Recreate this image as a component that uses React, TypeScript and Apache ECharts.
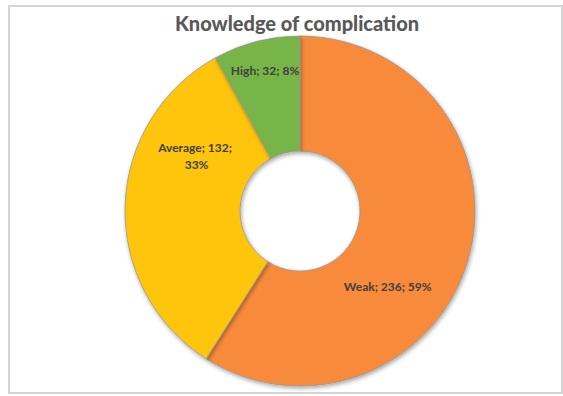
import React, { useEffect, useRef } from "react";
import * as echarts from "echarts";

const titleText = "Knowledge of complication";
const categories = ["Weak", "Average", "High"];
const values = [236, 132, 32];
const colors = ["#F88B3B", "#FFC508", "#78B548"];
// label nudges per category (pixels) to mirror the reference placement
const labelOffsets: [number, number][] = [[-28, 42], [17, -51], [-5, -24]];

const FONT = "Lato, 'Open Sans', sans-serif";

export default function App() {
  const ref = useRef<HTMLDivElement>(null);
  useEffect(() => {
    if (!ref.current) return;
    const chart = echarts.init(ref.current, undefined, { renderer: "svg" });
    const data = categories.map((name, i) => ({
      name,
      value: values[i],
      itemStyle: { color: colors[i] },
      label: {
        offset: labelOffsets[i],
        ...(name === "Average" ? { width: 92, overflow: "break" as const } : {}),
      },
    }));
    chart.setOption({
      animation: false,
      backgroundColor: "#ffffff",
      title: {
        text: titleText,
        left: 292,
        top: 8,
        textAlign: "center",
        textStyle: { fontFamily: FONT, fontSize: 20, fontWeight: 900, color: "#595959" },
      },
      graphic: [
        {
          type: "rect",
          shape: { x: 9, y: 6, width: 553, height: 387 },
          style: { fill: "none", stroke: "#d4d4d4", lineWidth: 2 },
          silent: true,
          z: -1,
        },
      ],
      series: [
        {
          type: "pie",
          center: [300, 211],
          radius: [60, 175],
          startAngle: 90,
          clockwise: true,
          avoidLabelOverlap: false,
          itemStyle: {
            borderColor: "rgba(150,150,150,0.8)",
            borderWidth: 1,
            shadowBlur: 4,
            shadowColor: "rgba(0,0,0,0.35)",
            shadowOffsetX: 1,
            shadowOffsetY: 2,
          },
          label: {
            show: true,
            position: "inside",
            fontFamily: FONT,
            fontSize: 12,
            fontWeight: "bold",
            color: "#404040",
            lineHeight: 17,
            align: "center",
            formatter: (p: any) => `${p.name}; ${p.value}; ${Math.round(p.percent)}%`,
          },
          labelLine: { show: false },
          emphasis: { disabled: true },
          data,
        },
      ],
    });
    return () => chart.dispose();
  }, []);
  return (
    <div
      ref={ref}
      style={{ position: "fixed", left: 0, top: 0, width: 563, height: 396 }}
    />
  );
}
